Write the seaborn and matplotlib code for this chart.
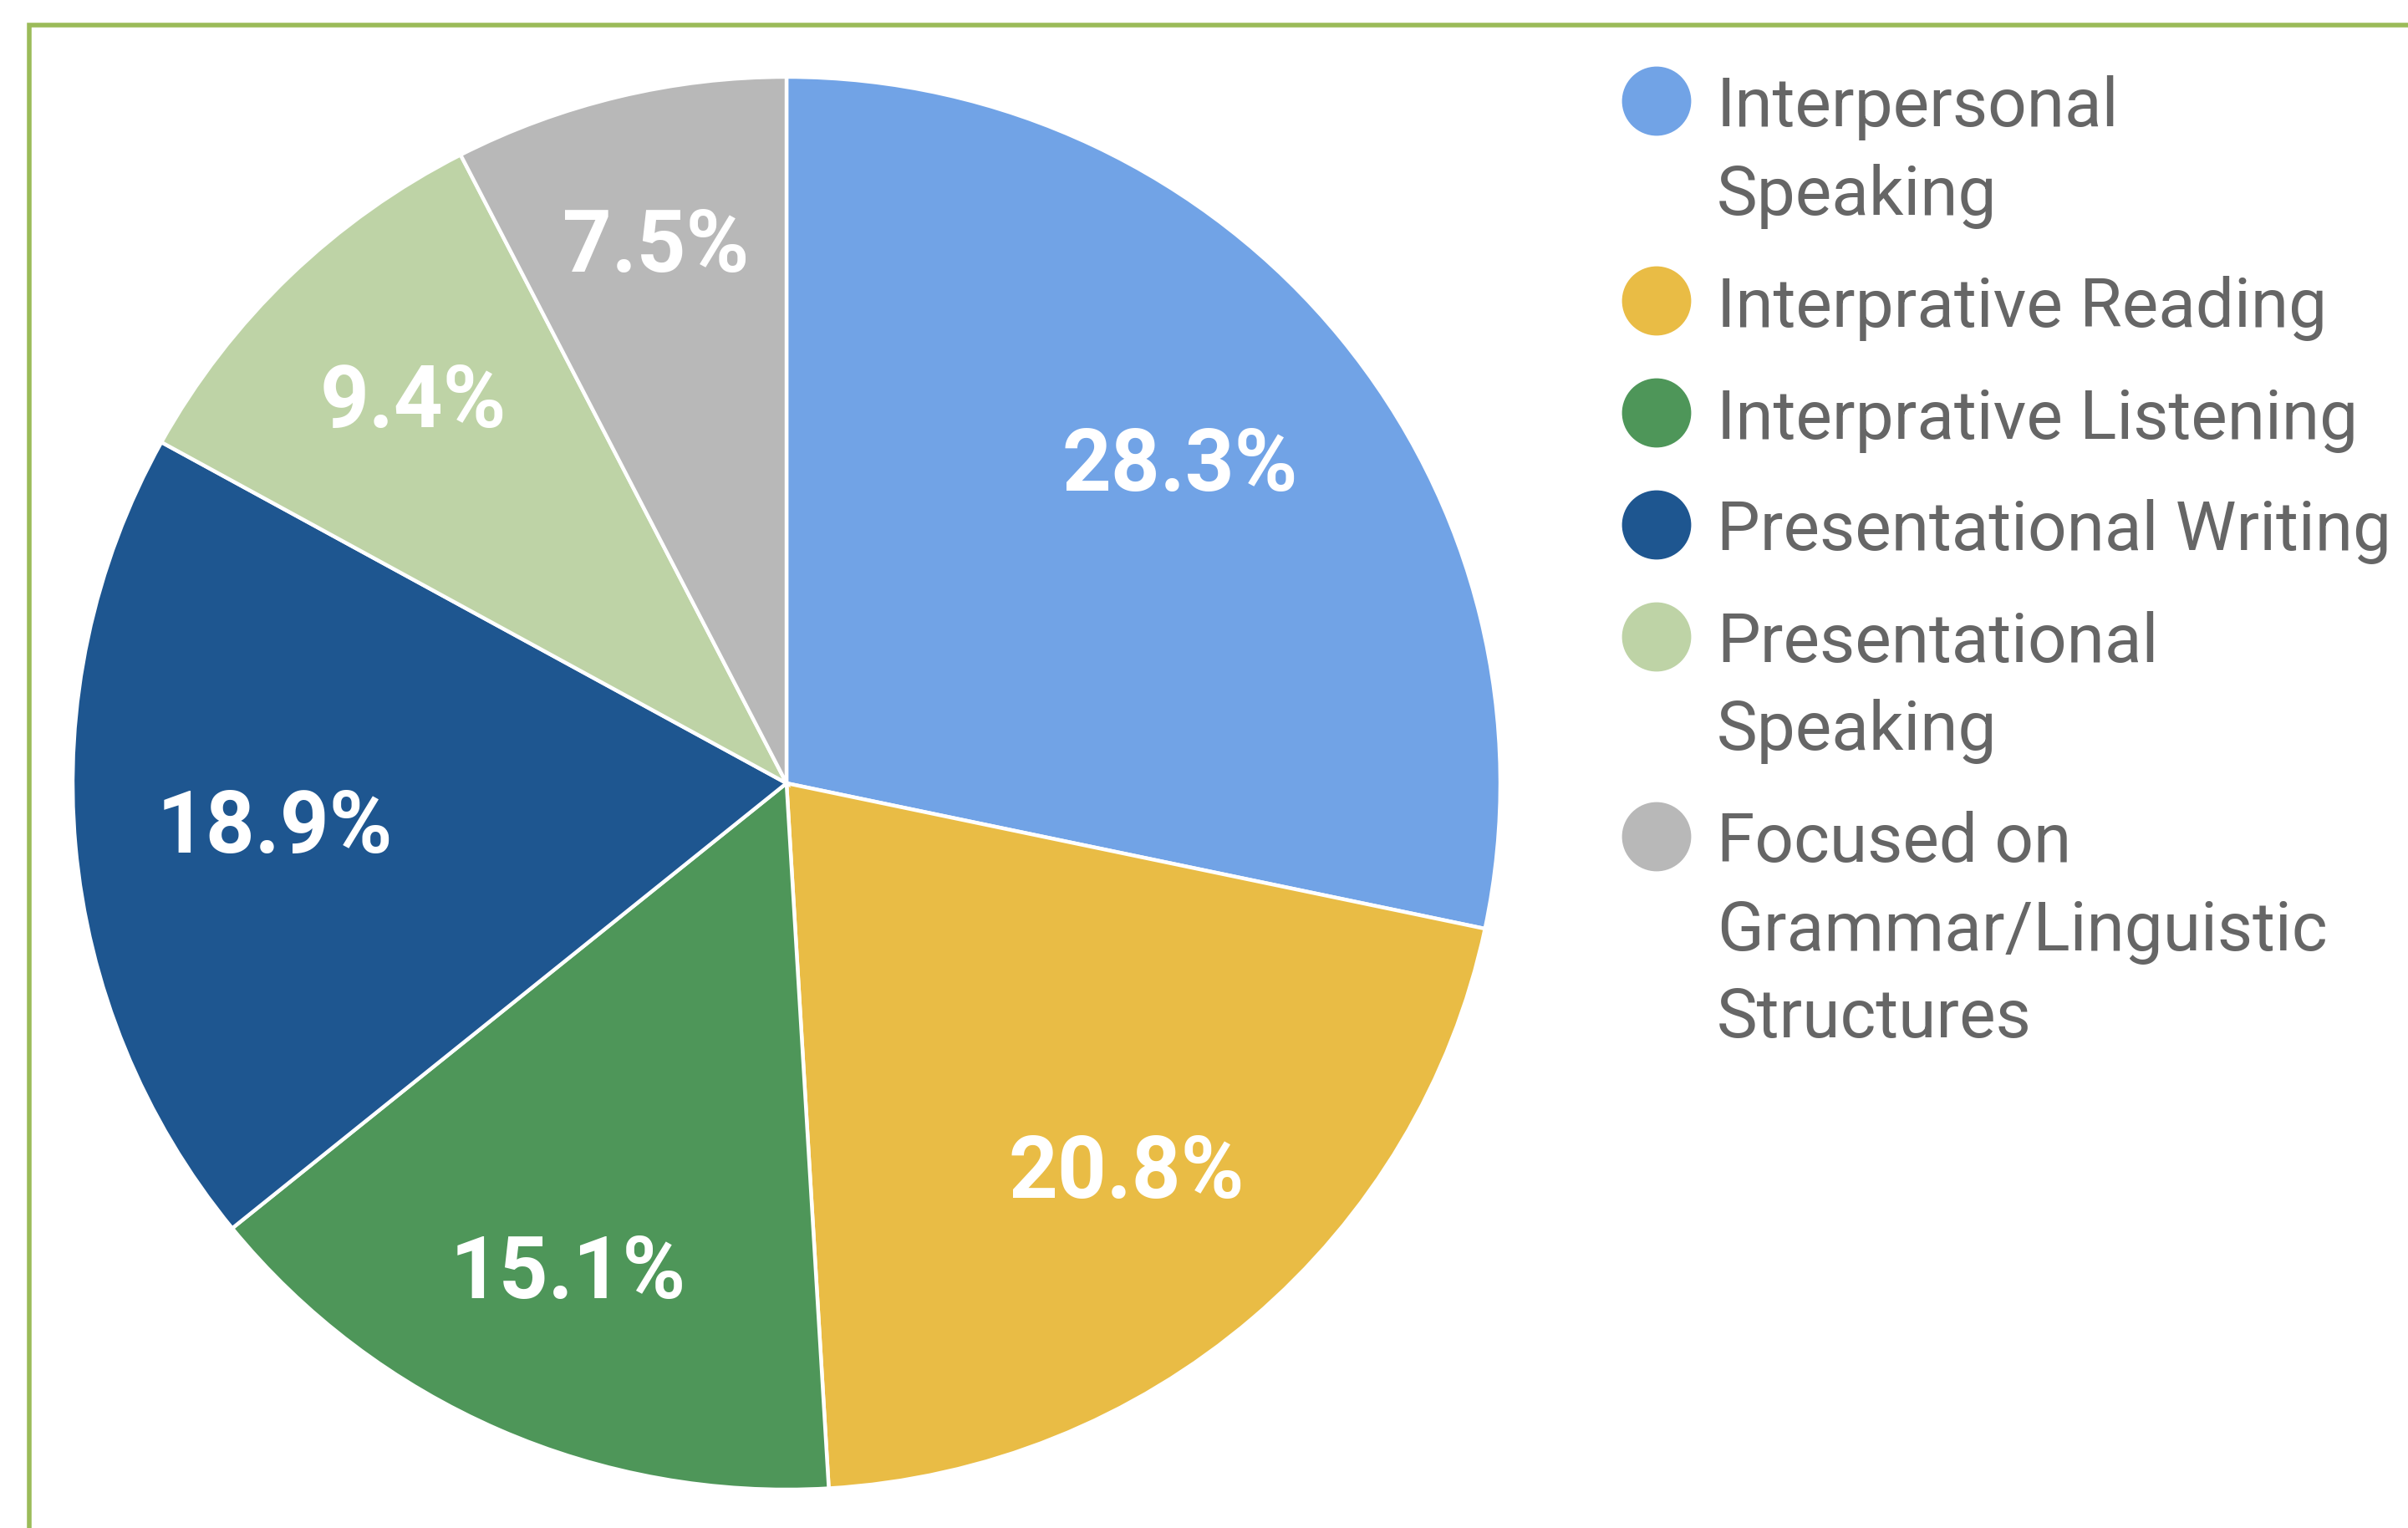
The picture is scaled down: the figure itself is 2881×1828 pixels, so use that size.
import matplotlib
matplotlib.use('Agg')
import matplotlib.pyplot as plt
import matplotlib.patches as mpatches
import seaborn as sns

categories = [
    'Interpersonal\nSpeaking',
    'Interprative Reading',
    'Interprative Listening',
    'Presentational Writing',
    'Presentational\nSpeaking',
    'Focused on\nGrammar/Linguistic\nStructures',
]
counts = [15, 11, 8, 10, 5, 4]
colors = ['#71A3E6', '#E9BC45', '#4E9659', '#1E5690', '#BED3A6', '#B8B8B8']
label_radius = [0.71, 0.73, 0.76, 0.72, 0.75, 0.78]

sns.set_theme(style='white')
plt.rcParams['font.family'] = ['Roboto', 'DejaVu Sans']

W, H, DPI = 2881, 1828, 200
fig = plt.figure(figsize=(W / DPI, H / DPI), dpi=DPI)
fig.patch.set_facecolor('white')

# pie axes: centre (941, 937) px, radii 854 x 845 px
cx, cy, rx, ry = 941, 937, 854, 845
ax = fig.add_axes([(cx - rx) / W, (H - cy - ry) / H, 2 * rx / W, 2 * ry / H])
palette = sns.color_palette(colors)
wedges, texts, autotexts = ax.pie(
    counts, colors=palette, startangle=90, counterclock=False,
    autopct='%.1f%%', pctdistance=0.74,
    wedgeprops=dict(edgecolor='white', linewidth=1.6),
    textprops=dict(color='white', fontsize=37, fontweight='bold'),
)
for t, rad in zip(autotexts, label_radius):
    x, y = t.get_position()
    d = (x ** 2 + y ** 2) ** 0.5
    t.set_position((x / d * rad, y / d * rad))
ax.set_xlim(-1, 1)
ax.set_ylim(-1, 1)
ax.set_aspect('auto')
ax.axis('off')

# legend, drawn by hand so the marker sits on the first line
y = 121
for name, col in zip(categories, palette):
    lines = name.split('\n')
    fig.patches.append(mpatches.Ellipse((1982 / W, 1 - y / H), 80 / W, 80 / H,
                                        transform=fig.transFigure, color=col))
    for k, line in enumerate(lines):
        fig.text(2054 / W, 1 - (y + k * 105) / H, line, fontsize=29.5,
                 color='#666666', va='center_baseline', ha='left')
    y += len(lines) * 105 + 29

# green frame (right and bottom sides run off the image)
fig.patches.append(mpatches.Rectangle((35 / W, -0.1), 1.2, 1 - 29.5 / H + 0.1,
                                      transform=fig.transFigure, fill=False,
                                      edgecolor='#9BBB59', linewidth=2.0))

fig.savefig('out.png', dpi=DPI)
